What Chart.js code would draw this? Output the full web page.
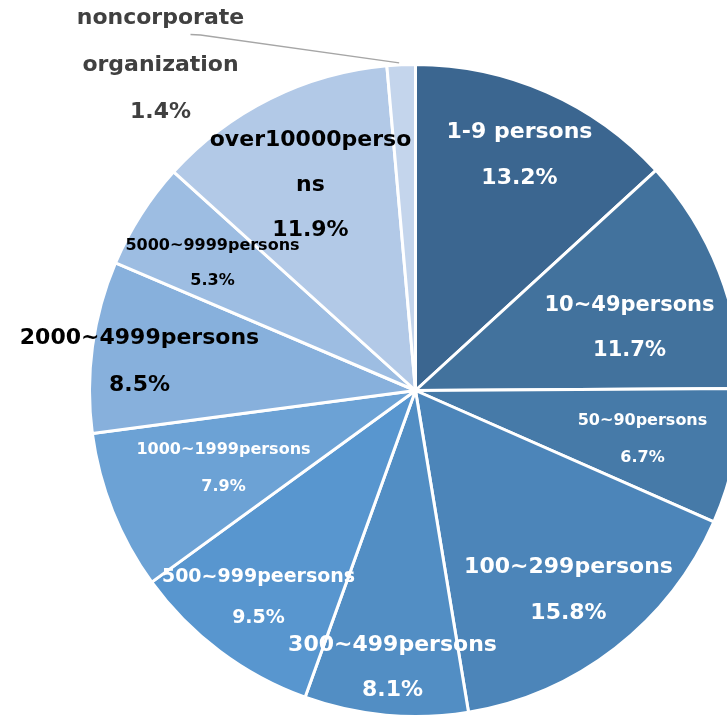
<!DOCTYPE html>
<html>
<head>
<meta charset="utf-8">
<script src="https://cdn.jsdelivr.net/npm/chart.js@4"></script>
<style>
  html, body { margin: 0; padding: 0; background: #fff; overflow: hidden; }
  #wrap { width: 743px; height: 718px; }
</style>
</head>
<body>
<div id="wrap"><canvas id="chart" width="743" height="718"></canvas></div>
<script>
// Company size share
const categories = [
  "1-9 persons", "10~49persons", "50~90persons", "100~299persons", "300~499persons",
  "500~999peersons", "1000~1999persons", "2000~4999persons", "5000~9999persons",
  "over10000persons", "noncorporate organization",
]
const shares = [13.2, 11.7, 6.7, 15.8, 8.1, 9.5, 7.9, 8.5, 5.3, 11.9, 1.4]

// how each label is broken into lines on the picture
const labelLines = [
  ["1-9 persons"], ["10~49persons"], ["50~90persons"], ["100~299persons"], ["300~499persons"],
  ["500~999peersons"], ["1000~1999persons"], ["2000~4999persons"], ["5000~9999persons"],
  ["over10000perso", "ns"], ["noncorporate", "organization"],
]

const sliceColors = [
  "#3b6690", "#42729d", "#467aa8", "#4c85b9", "#528ec4", "#5896cf",
  "#6ca2d5", "#87b0dc", "#9dbde2", "#b2c9e7", "#c4d5ec",
]

// label style: offset of first line from pie centre, line gap, font size, colour
const labelStyle = [
  { dx: 104, dy: -258, gap: 46, size: 22, color: "#fff" },
  { dx: 214, dy: -85, gap: 45, size: 21, color: "#fff" },
  { dx: 227, dy: 30, gap: 37, size: 16, color: "#fff" },
  { dx: 153, dy: 177, gap: 46, size: 22, color: "#fff" },
  { dx: -23, dy: 255, gap: 45, size: 22, color: "#fff" },
  { dx: -157, dy: 187, gap: 41, size: 19, color: "#fff" },
  { dx: -192, dy: 59, gap: 37, size: 16, color: "#fff" },
  { dx: -276, dy: -52, gap: 47, size: 22, color: "#000" },
  { dx: -203, dy: -145, gap: 35, size: 16, color: "#000" },
  { dx: -105, dy: -250, gap: 45, size: 22, color: "#000" },
  { dx: -255, dy: -372, gap: 47, size: 22, color: "#404040" },
]

const labelPlugin = {
  id: "sliceLabels",
  afterDatasetsDraw: (chart) => {
    const ctx = chart.ctx
    const arcs = chart.getDatasetMeta(0).data
    const cx = arcs[0].x
    const cy = arcs[0].y
    const data = chart.data.datasets[0].data

    ctx.save()
    // leader line for the small slice
    const last = arcs[data.length - 1]
    const mid = (last.startAngle + last.endAngle) / 2
    const ex = cx + Math.cos(mid) * last.outerRadius
    const ey = cy + Math.sin(mid) * last.outerRadius
    ctx.strokeStyle = "#a6a6a6"
    ctx.lineWidth = 1.3
    ctx.beginPath()
    ctx.moveTo(cx - 225, cy - 356)
    ctx.lineTo(cx - 215, cy - 355.5)
    ctx.lineTo(ex - 2, ey - 2)
    ctx.stroke()

    ctx.textAlign = "center"
    ctx.textBaseline = "middle"
    data.forEach((v, i) => {
      const s = labelStyle[i]
      ctx.font = `bold ${s.size}px "DejaVu Sans", Verdana, sans-serif`
      ctx.fillStyle = s.color
      const lines = labelLines[i].concat([v.toFixed(1) + "%"])
      lines.forEach((t, k) => {
        ctx.fillText(t, cx + s.dx, cy + s.dy + k * s.gap)
      })
    })
    ctx.restore()
  },
}

new Chart(document.getElementById("chart"), {
  type: "pie",
  data: {
    labels: categories,
    datasets: [{
      data: shares,
      backgroundColor: sliceColors,
      borderColor: "#ffffff",
      borderWidth: 3,
      hoverOffset: 0,
    }],
  },
  options: {
    responsive: false,
    animation: false,
    // canvas is a bit wider than the page: the pie runs past the right edge
    layout: { padding: { left: 88, right: 0, top: 63, bottom: 0 } },
    plugins: {
      legend: { display: false },
      tooltip: { enabled: false },
    },
  },
  plugins: [labelPlugin],
})
</script>
</body>
</html>
